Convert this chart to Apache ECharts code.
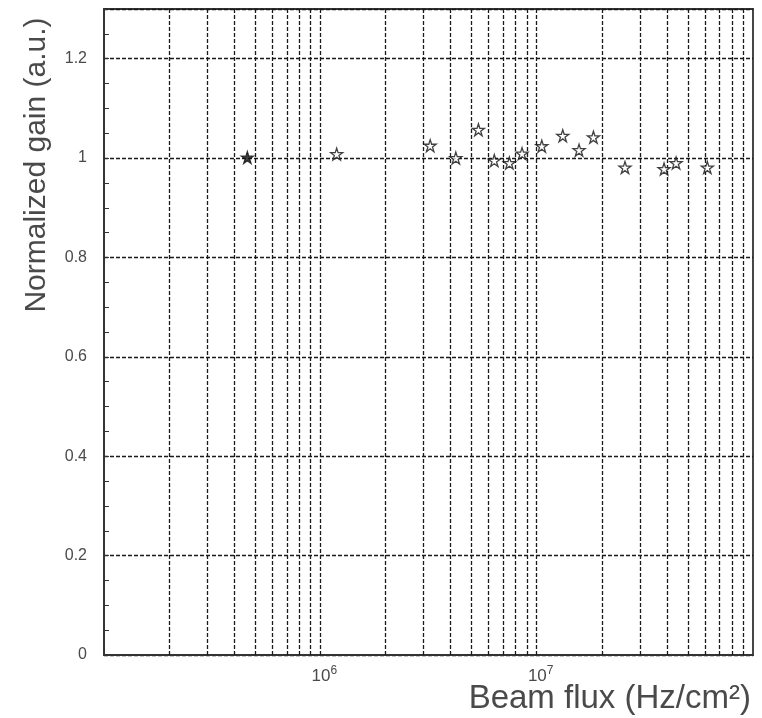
<!DOCTYPE html>
<html>
<head>
<meta charset="utf-8">
<script src="https://cdn.jsdelivr.net/npm/echarts@6/dist/echarts.min.js"></script>
<style>
    html, body { margin: 0; padding: 0; background: #fff; }
    #main { width: 762px; height: 718px; }
</style>
</head>
<body>
<div id="main"></div>
<script>
    // 数据点：束流通量 (Hz/cm2) 和归一化增益
    var fluxValues = [4.6e5, 1.19e6, 3.22e6, 4.23e6, 5.38e6, 6.37e6, 7.48e6, 8.56e6,
        1.056e7, 1.32e7, 1.57e7, 1.83e7, 2.56e7, 3.88e7, 4.41e7, 6.15e7];
    var gainValues = [1.001, 1.008, 1.025, 1.0, 1.057, 0.995, 0.99, 1.009,
        1.024, 1.045, 1.016, 1.042, 0.981, 0.978, 0.99, 0.981];
    var filledPoints = [0];   // 实心星号的点

    // 坐标轴刻度
    var yTickLabels = ['0', '0.2', '0.4', '0.6', '0.8', '1', '1.2'];
    var xLabelPowers = [6, 7];
    var xGridValues = [2e5, 3e5, 4e5, 5e5, 6e5, 7e5, 8e5, 9e5, 1e6,
        2e6, 3e6, 4e6, 5e6, 6e6, 7e6, 8e6, 9e6, 1e7,
        2e7, 3e7, 4e7, 5e7, 6e7, 7e7, 8e7, 9e7];

    var starPath = 'path://M50 0 L61.17 34.63 L97.55 34.55 L68.07 55.87 L79.39 90.45 L50 69 L20.61 90.45 L31.93 55.87 L2.45 34.55 L38.83 34.63 Z';
    var fontName = 'Liberation Sans';
    var textColor = '#4a4a4a';
    var dashStyle = { color: '#1a1a1a', width: 1.3, type: [4, 2] };

    var points = [];
    for (var i = 0; i < fluxValues.length; i++) {
        var item = { value: [fluxValues[i], gainValues[i]] };
        if (filledPoints.indexOf(i) >= 0) {
            item.itemStyle = { color: '#111' };
        }
        points.push(item);
    }

    var gridLines = [];
    for (var j = 0; j < xGridValues.length; j++) {
        gridLines.push({ xAxis: xGridValues[j] });
    }

    var myChart = echarts.init(document.getElementById('main'));
    var option = {
        animation: false,
        backgroundColor: '#fff',
        grid: {
            left: 104, top: 9, right: 9, bottom: 63,
            outerBoundsMode: 'none',
            containLabel: false,
            show: true, borderColor: '#333', borderWidth: 1.8
        },
        xAxis: {
            type: 'log',
            logBase: 10,
            min: 1e5,
            max: 1e8,
            name: 'Beam flux (Hz/cm²)',
            nameLocation: 'end',
            nameGap: -2,
            nameMoveOverlap: false,
            nameTextStyle: {
                fontFamily: fontName, fontSize: 33, color: textColor,
                align: 'right', verticalAlign: 'top', padding: [27, 0, 0, 0]
            },
            axisLine: { show: true, lineStyle: { color: '#333', width: 1.8 } },
            axisTick: { show: false },
            splitLine: { show: false },
            axisLabel: {
                margin: 10,
                showMinLabel: false,
                showMaxLabel: false,
                formatter: function (value) {
                    var p = Math.round(Math.log(value) / Math.LN10);
                    if (xLabelPowers.indexOf(p) < 0) {
                        return '';
                    }
                    return '{b|10}{s|' + p + '}';
                },
                rich: {
                    b: { fontFamily: fontName, fontSize: 17, color: textColor, padding: [0, 0, 0, 8] },
                    s: { fontFamily: fontName, fontSize: 12, color: textColor, padding: [0, 0, 10, 0] }
                }
            }
        },
        yAxis: {
            type: 'value',
            min: 0,
            max: 1.3,
            interval: 0.2,
            name: 'Normalized gain (a.u.)',
            nameLocation: 'middle',
            nameGap: 52,
            nameRotate: 90,
            nameMoveOverlap: false,
            nameTextStyle: {
                fontFamily: fontName, fontSize: 30, color: textColor,
                padding: [0, 0, 0, 334]
            },
            axisLine: { show: true, lineStyle: { color: '#333', width: 1.8 } },
            axisTick: { show: true, inside: true, length: 5, lineStyle: { color: '#333' } },
            minorTick: { show: true, splitNumber: 4, length: 5, lineStyle: { color: '#333' } },
            splitLine: { show: true, lineStyle: dashStyle },
            axisLabel: {
                margin: 17,
                fontFamily: fontName,
                fontSize: 16,
                color: textColor,
                formatter: function (value) {
                    var idx = Math.round(value / 0.2);
                    if (value > 1.25 || Math.abs(value - idx * 0.2) > 1e-6) {
                        return '';
                    }
                    return yTickLabels[idx];
                }
            }
        },
        series: [
            {
                type: 'scatter',
                symbol: starPath,
                symbolSize: 12,
                itemStyle: { color: '#fff', borderColor: '#111', borderWidth: 1.3 },
                data: points,
                z: 5,
                markLine: {
                    silent: true,
                    symbol: 'none',
                    label: { show: false },
                    lineStyle: dashStyle,
                    data: gridLines,
                    z: 1
                }
            }
        ]
    };
    myChart.setOption(option);
</script>
</body>
</html>
